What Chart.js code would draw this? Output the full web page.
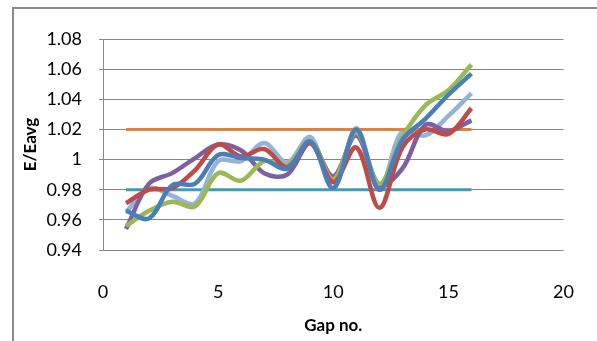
<!DOCTYPE html>
<html>
<head>
<meta charset="utf-8">
<script src="https://cdn.jsdelivr.net/npm/chart.js@4"></script>
<style>
    html, body { margin: 0; padding: 0; background: #fff; overflow: hidden; }
    #wrap { position: relative; width: 597px; height: 341px; overflow: hidden; }
    #frame {
        position: absolute; left: 12px; top: 7px; width: 640px; height: 400px;
        border-left: 2px solid #8a8a8a; border-top: 2px solid #8a8a8a; pointer-events: none;
    }
    canvas { position: absolute; left: 0; top: 0; }
</style>
</head>
<body>
<div id="wrap">
    <canvas id="chart" width="597" height="341"></canvas>
    <div id="frame"></div>
</div>
<script>
// Gap numbers 1..16
const gaps = [1, 2, 3, 4, 5, 6, 7, 8, 9, 10, 11, 12, 13, 14, 15, 16];

// E/Eavg per gap
const blueVals   = [0.966, 0.961, 0.983, 0.984, 1.003, 1.001, 1.000, 0.994, 1.012, 0.981, 1.020, 0.980, 1.013, 1.027, 1.043, 1.057];
const redVals    = [0.971, 0.980, 0.981, 0.993, 1.010, 1.002, 1.007, 0.995, 1.011, 0.985, 1.008, 0.968, 1.008, 1.020, 1.017, 1.034];
const greenVals  = [0.956, 0.966, 0.972, 0.969, 0.991, 0.986, 0.999, 0.996, 1.012, 0.987, 1.018, 0.984, 1.015, 1.036, 1.046, 1.063];
const purpleVals = [0.954, 0.984, 0.991, 1.001, 1.010, 1.006, 0.991, 0.990, 1.011, 0.989, 1.016, 0.983, 0.994, 1.023, 1.019, 1.026];
const lblueVals  = [0.965, 0.981, 0.976, 0.971, 0.999, 0.999, 1.011, 0.998, 1.015, 0.981, 1.021, 0.980, 1.019, 1.016, 1.029, 1.044];

// limit lines
const upperLimit = [1.02, 1.02];
const lowerLimit = [0.98, 0.98];
const limitGaps = [1, 16];

const toPts = (xs, ys) => xs.map((x, i) => ({ x: x, y: ys[i] }));

function series(vals, color) {
    return {
        data: toPts(gaps, vals),
        borderColor: color,
        borderWidth: 4.5,
        pointRadius: 0,
        tension: 0.35,
        fill: false
    };
}

function limit(vals, color) {
    return {
        data: toPts(limitGaps, vals),
        borderColor: color,
        borderWidth: 3,
        pointRadius: 0,
        tension: 0,
        fill: false
    };
}

const ctx = document.getElementById('chart').getContext('2d');
new Chart(ctx, {
    type: 'line',
    data: {
        datasets: [
            series(blueVals, '#4a7ebb'),
            series(redVals, '#be4b48'),
            series(greenVals, '#98b954'),
            series(purpleVals, '#7d60a0'),
            limit(upperLimit, '#e0823a'),
            series(lblueVals, '#95b3d7'),
            limit(lowerLimit, '#3f9cb5')
        ]
    },
    options: {
        responsive: false,
        animation: false,
        layout: { padding: { top: 39, right: 10, left: 0, bottom: 0 } },
        plugins: { legend: { display: false }, tooltip: { enabled: false } },
        scales: {
            x: {
                type: 'linear',
                min: 0,
                max: 20,
                afterFit: s => { s.height = 91; },
                ticks: {
                    stepSize: 5,
                    padding: 23,
                    color: '#000',
                    font: { family: 'Lato', size: 18 }
                },
                grid: { display: false },
                border: { display: false },
                title: {
                    display: true,
                    text: 'Gap no.',
                    color: '#000',
                    font: { family: 'Lato', size: 17, weight: 'bold' },
                    padding: { top: 0, bottom: 5 }
                }
            },
            y: {
                min: 0.94,
                max: 1.08,
                afterFit: s => { s.width = 103; },
                ticks: {
                    stepSize: 0.02,
                    padding: 17,
                    color: '#000',
                    font: { family: 'Lato', size: 18 },
                    callback: v => String(parseFloat(v.toFixed(2)))
                },
                grid: { color: '#888', lineWidth: 1, tickLength: 4 },
                border: { color: '#888', width: 1 },
                title: {
                    display: true,
                    text: 'E/Eavg',
                    color: '#000',
                    font: { family: 'Lato', size: 17, weight: 'bold' },
                    padding: { top: 20, bottom: 0 }
                }
            }
        }
    }
});
</script>
</body>
</html>
